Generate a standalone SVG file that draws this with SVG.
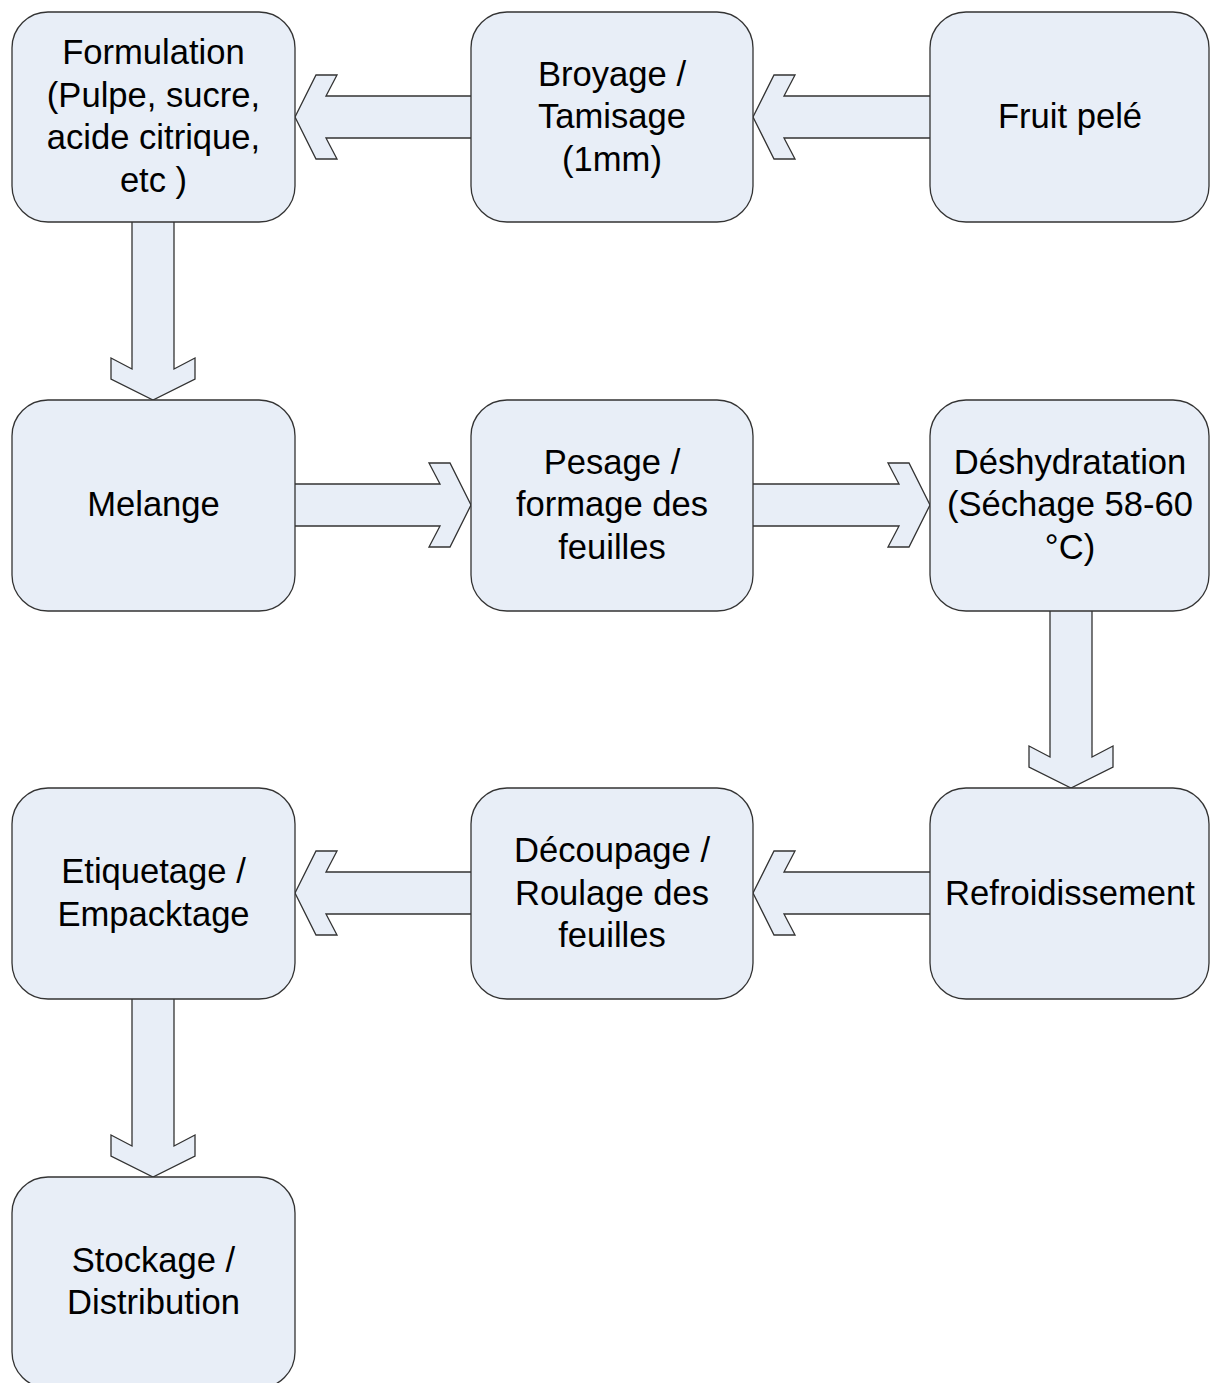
<svg xmlns="http://www.w3.org/2000/svg" width="1210" height="1383" viewBox="0 0 1210 1383">
<style>
.box{fill:#E8EEF7;stroke:#333333;stroke-width:1.3}
.arr{fill:#E8EEF7;stroke:#333333;stroke-width:1.3;stroke-linejoin:miter}
.t{font-family:"Liberation Sans",Arial,sans-serif;font-size:34.6px;fill:#000000;text-anchor:middle}
</style>
<rect width="1210" height="1383" fill="#FFFFFF"/>
<g id="connectors">
<path class="arr" d="M471,96 L326,96 L337,75 L316,75 L295,117 L316,159 L337,159 L326,138 L471,138"/>
<path class="arr" d="M930,96 L784,96 L795,75 L774,75 L753,117 L774,159 L795,159 L784,138 L930,138"/>
<path class="arr" d="M132,222 L132,369 L111,358 L111,379 L153,400 L195,379 L195,358 L174,369 L174,222"/>
<path class="arr" d="M295,484 L440,484 L429,463 L450,463 L471,505 L450,547 L429,547 L440,526 L295,526"/>
<path class="arr" d="M753,484 L899,484 L888,463 L909,463 L930,505 L909,547 L888,547 L899,526 L753,526"/>
<path class="arr" d="M1050,611 L1050,757 L1029,746 L1029,767 L1071,788 L1113,767 L1113,746 L1092,757 L1092,611"/>
<path class="arr" d="M930,872 L784,872 L795,851 L774,851 L753,893 L774,935 L795,935 L784,914 L930,914"/>
<path class="arr" d="M471,872 L326,872 L337,851 L316,851 L295,893 L316,935 L337,935 L326,914 L471,914"/>
<path class="arr" d="M132,999 L132,1146 L111,1135 L111,1156 L153,1177 L195,1156 L195,1135 L174,1146 L174,999"/>
</g>
<g id="formulation">
<rect class="box" x="12" y="12" width="283" height="210" rx="36" ry="36"/>
<text class="t" x="153.5" y="64">Formulation</text>
<text class="t" x="153.5" y="107">(Pulpe, sucre,</text>
<text class="t" x="153.5" y="149">acide citrique,</text>
<text class="t" x="153.5" y="192">etc )</text>
</g>
<g id="broyage">
<rect class="box" x="471" y="12" width="282" height="210" rx="36" ry="36"/>
<text class="t" x="612" y="86">Broyage /</text>
<text class="t" x="612" y="128">Tamisage</text>
<text class="t" x="612" y="171">(1mm)</text>
</g>
<g id="fruit">
<rect class="box" x="930" y="12" width="279" height="210" rx="36" ry="36"/>
<text class="t" x="1070" y="128">Fruit pelé</text>
</g>
<g id="melange">
<rect class="box" x="12" y="400" width="283" height="211" rx="36" ry="36"/>
<text class="t" x="153.5" y="516">Melange</text>
</g>
<g id="pesage">
<rect class="box" x="471" y="400" width="282" height="211" rx="36" ry="36"/>
<text class="t" x="612" y="474">Pesage /</text>
<text class="t" x="612" y="516">formage des</text>
<text class="t" x="612" y="559">feuilles</text>
</g>
<g id="deshydratation">
<rect class="box" x="930" y="400" width="279" height="211" rx="36" ry="36"/>
<text class="t" x="1070" y="474">Déshydratation</text>
<text class="t" x="1070" y="516">(Séchage 58-60</text>
<text class="t" x="1070" y="559">°C)</text>
</g>
<g id="etiquetage">
<rect class="box" x="12" y="788" width="283" height="211" rx="36" ry="36"/>
<text class="t" x="153.5" y="883">Etiquetage /</text>
<text class="t" x="153.5" y="926">Empacktage</text>
</g>
<g id="decoupage">
<rect class="box" x="471" y="788" width="282" height="211" rx="36" ry="36"/>
<text class="t" x="612" y="862">Découpage /</text>
<text class="t" x="612" y="905">Roulage des</text>
<text class="t" x="612" y="947">feuilles</text>
</g>
<g id="refroidissement">
<rect class="box" x="930" y="788" width="279" height="211" rx="36" ry="36"/>
<text class="t" x="1070" y="905">Refroidissement</text>
</g>
<g id="stockage">
<rect class="box" x="12" y="1177" width="283" height="211" rx="36" ry="36"/>
<text class="t" x="153.5" y="1272">Stockage /</text>
<text class="t" x="153.5" y="1314">Distribution</text>
</g>
</svg>
